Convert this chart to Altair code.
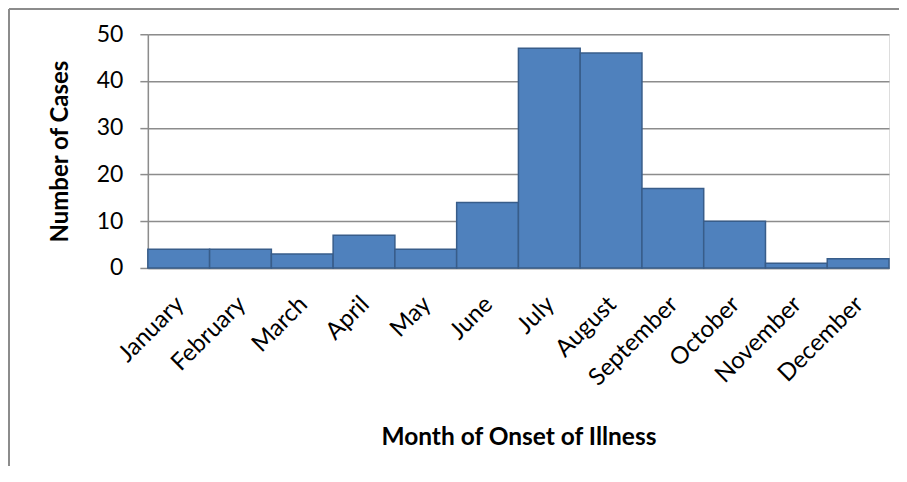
import altair as alt
import pandas as pd

months = ["January", "February", "March", "April", "May", "June", "July",
          "August", "September", "October", "November", "December"]
cases = [4, 4, 3, 7, 4, 14, 47, 46, 17, 10, 1, 2]

df = pd.DataFrame({"month": months, "cases": cases})

W, H = 742, 234
FONT = "Lato"

bars = alt.Chart(df).mark_bar(
    color="#4f81bd", stroke="#385d8a", strokeWidth=1.5
).encode(
    x=alt.X("month:N", sort=months,
            scale=alt.Scale(paddingInner=0, paddingOuter=0),
            axis=alt.Axis(title="Month of Onset of Illness", labelAngle=-45,
                          labelFontSize=24, labelColor="#000000", labelFont=FONT,
                          ticks=False, domainColor="#8c8c8c", domainWidth=1.5,
                          labelPadding=24, labelOffset=-7,
                          titleFont=FONT, titleFontSize=24.5, titleFontWeight="bold",
                          titleColor="#000000", titleY=170, titleBaseline="middle")),
    y=alt.Y("cases:Q", scale=alt.Scale(domain=[0, 50]),
            axis=alt.Axis(title="Number of Cases", values=[0, 10, 20, 30, 40, 50],
                          labelFontSize=23, labelColor="#000000", labelFont=FONT,
                          labelPadding=17,
                          tickSize=8, tickColor="#8c8c8c", tickWidth=1.5,
                          domainColor="#8c8c8c", domainWidth=1.5,
                          grid=True, gridColor="#8c8c8c", gridWidth=1.5,
                          titleFont=FONT, titleFontSize=24, titleFontWeight="bold",
                          titleColor="#000000", titleX=-87, titleY=H / 2,
                          titleBaseline="middle")),
)

border_top = alt.Chart(df).mark_rule(color="#8c8c8c", strokeWidth=1.5).encode(
    x=alt.value(-139), x2=alt.value(760), y=alt.value(-25)
)
border_left = alt.Chart(df).mark_rule(color="#8c8c8c", strokeWidth=1.5).encode(
    x=alt.value(-139), y=alt.value(-25), y2=alt.value(432)
)

chart = alt.layer(bars, border_top, border_left).properties(
    width=W, height=H,
    autosize=alt.AutoSizeParams(type="none"),
    padding={"left": 140, "top": 26, "right": 10, "bottom": 220},
).configure_view(
    fill="#e6e6e6", stroke=None
).configure(background="white")

chart.save("out.html", embed_options={"renderer": "svg", "actions": False})
